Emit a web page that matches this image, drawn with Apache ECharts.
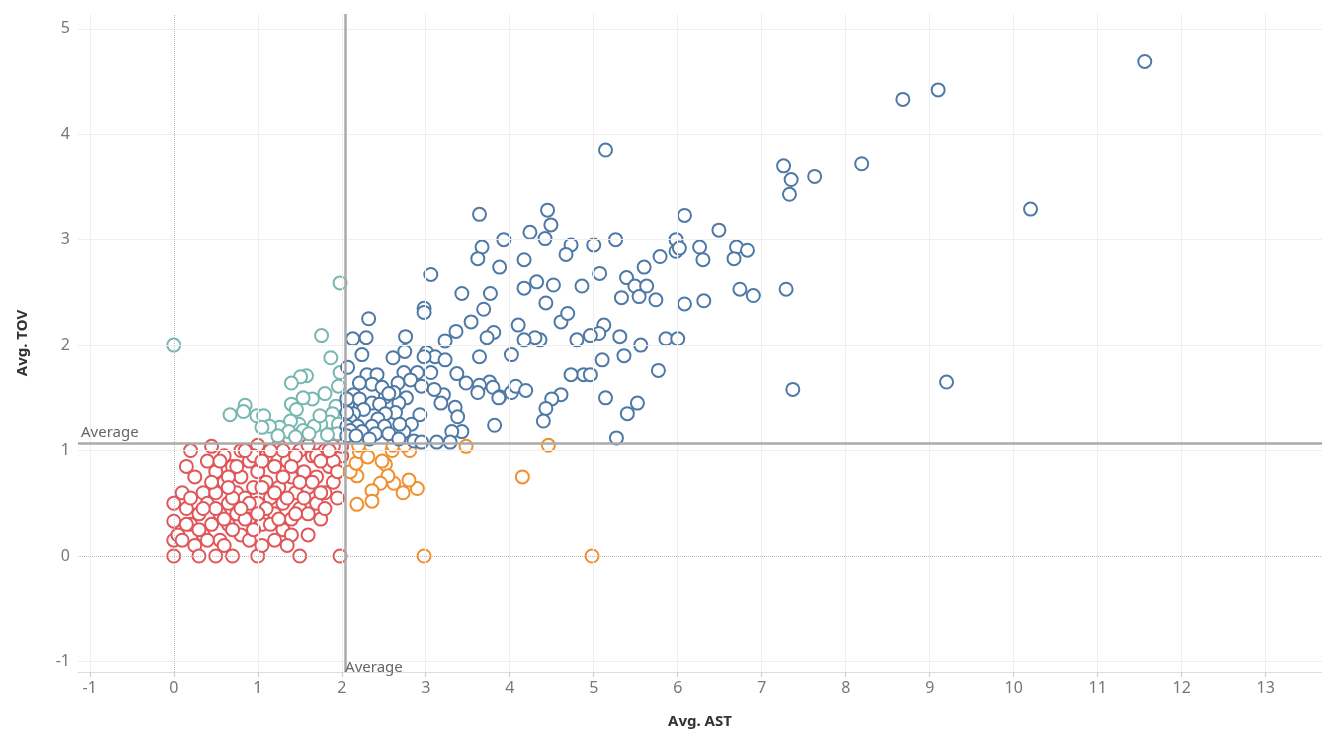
<!DOCTYPE html>
<html>
<head>
<meta charset="utf-8">
<script src="https://cdn.jsdelivr.net/npm/echarts@6/dist/echarts.min.js"></script>
<style>html,body{margin:0;padding:0;background:#fff}#chart{width:1322px;height:756px}</style>
</head>
<body>
<div id="chart"></div>
<script>
// averages
const avgAst = 2.04;
const avgTov = 1.07;

// high AST, high TOV
const bluePts = [
  [11.56,4.69],[9.1,4.42],[8.68,4.33],[8.19,3.72],[7.26,3.70],[7.35,3.57],[7.63,3.60],[7.33,3.43],
  [10.2,3.29],[5.14,3.85],[9.2,1.65],[7.37,1.58],[6.49,3.09],[6.08,3.23],[6.26,2.93],[5.98,3.0],
  [5.98,2.89],[6.02,2.92],[6.3,2.81],[6.7,2.93],[6.67,2.82],[6.83,2.9],[5.79,2.84],[5.6,2.74],
  [5.39,2.64],[5.49,2.56],[5.63,2.56],[6.74,2.53],[7.29,2.53],[6.9,2.47],[6.31,2.42],[6.08,2.39],
  [5.74,2.43],[5.54,2.46],[5.33,2.45],[5.26,3.0],[5.0,2.95],[5.07,2.68],[4.86,2.56],[4.73,2.95],
  [4.67,2.86],[4.45,3.28],[4.49,3.14],[4.42,3.01],[4.24,3.07],[3.93,3.0],[3.64,3.24],[3.67,2.93],
  [3.62,2.82],[3.88,2.74],[4.17,2.81],[4.17,2.54],[4.32,2.6],[4.52,2.57],[4.43,2.4],[4.61,2.22],
  [4.69,2.3],[5.12,2.19],[5.06,2.11],[4.96,2.09],[5.31,2.08],[5.56,2.0],[5.86,2.06],[6.0,2.06],
  [5.36,1.9],[5.1,1.86],[4.88,1.72],[4.96,1.72],[4.73,1.72],[5.77,1.76],[5.14,1.5],[5.52,1.45],
  [5.4,1.35],[5.27,1.12],[4.8,2.05],[4.61,1.53],[4.5,1.49],[4.43,1.4],[4.4,1.28],[4.02,1.55],
  [4.07,1.61],[4.19,1.57],[4.36,2.05],[4.3,2.07],[4.1,2.19],[4.17,2.05],[4.02,1.91],[3.81,2.12],
  [3.73,2.07],[3.64,1.89],[3.76,1.65],[3.64,1.62],[3.62,1.55],[3.8,1.6],[3.88,1.51],[3.87,1.5],
  [3.69,2.34],[3.77,2.49],[3.43,2.49],[3.54,2.22],[3.36,2.13],[3.23,2.04],[3.06,2.67],[2.98,2.35],
  [2.98,2.31],[3.01,1.93],[3.11,1.89],[3.23,1.86],[3.37,1.73],[3.48,1.64],[3.21,1.53],[3.18,1.45],
  [3.35,1.41],[3.38,1.32],[3.82,1.24],[3.43,1.18],[3.31,1.18],[3.29,1.08],[3.13,1.08],[2.98,1.89],
  [2.76,2.08],[2.75,1.94],[2.61,1.88],[2.74,1.74],[2.9,1.74],[2.67,1.64],[2.82,1.67],[3.06,1.74],
  [3.1,1.58],[2.95,1.61],[2.77,1.5],[2.68,1.45],[2.52,1.51],[2.64,1.36],[2.93,1.34],[2.83,1.25],
  [2.74,1.18],[2.86,1.09],[2.95,1.08],[2.32,2.25],[2.29,2.07],[2.13,2.06],[2.24,1.91],[2.07,1.79],
  [2.3,1.72],[2.42,1.72],[2.36,1.63],[2.21,1.64],[2.48,1.6],[2.62,1.55],[2.14,1.53],[2.07,1.44],
  [2.21,1.49],[2.36,1.45],[2.45,1.44],[2.52,1.35],[2.43,1.3],[2.26,1.39],[2.14,1.35],[2.1,1.29],
  [2.06,1.23],[2.19,1.23],[2.36,1.23],[2.51,1.23],[2.56,1.16],[2.4,1.16],[2.24,1.18],[2.1,1.19],
  [2.06,1.14],[2.17,1.14],[2.33,1.11],[2.68,1.11],[2.56,1.54],[2.69,1.25],[2.06,1.36],[2.06,1.49]
];

// low AST, high TOV
const tealPts = [
  [0,2.0],[1.98,2.59],[1.76,2.09],[1.87,1.88],[1.58,1.71],[1.51,1.70],[1.98,1.74],[1.4,1.64],
  [1.8,1.54],[1.65,1.49],[1.54,1.5],[1.96,1.61],[0.85,1.43],[0.83,1.37],[0.67,1.34],[0.99,1.33],
  [1.07,1.33],[1.4,1.44],[1.46,1.39],[1.93,1.42],[1.89,1.35],[1.86,1.27],[1.75,1.25],[1.67,1.23],
  [1.49,1.25],[1.39,1.28],[1.26,1.22],[1.14,1.23],[1.05,1.22],[1.54,1.19],[1.37,1.18],[1.96,1.25],
  [1.95,1.16],[1.83,1.15],[1.61,1.16],[1.45,1.13],[1.24,1.14],[1.74,1.33]
];

// high AST, low TOV
const orangePts = [
  [4.98,0],[2.98,0],[4.15,0.75],[4.46,1.05],[3.48,1.04],[2.9,0.64],[2.73,0.6],[2.8,0.72],
  [2.62,0.69],[2.52,0.87],[2.48,0.9],[2.55,0.76],[2.46,0.69],[2.36,0.62],[2.36,0.52],[2.18,0.49],
  [2.18,0.76],[2.1,0.8],[2.17,0.88],[2.21,0.99],[2.31,0.94],[2.6,1.0],[2.81,1.0],[2.2,1.05],
  [2.61,1.05],[2.75,1.05]
];

// low AST, low TOV
const redPts = [
  [0,0],[0,0.15],[0,0.33],[0,0.5],[0.05,0.2],[0.1,0.6],[0.15,0.85],[0.15,0.45],[0.2,1.0],[0.25,0.75],
  [0.2,0.3],[0.25,0.1],[0.3,0],[0.3,0.4],[0.35,0.6],[0.35,0.2],[0.4,0.9],[0.4,0.5],[0.45,0.3],[0.5,0],
  [0.45,1.04],[0.5,0.8],[0.5,0.6],[0.55,0.4],[0.55,0.15],[0.6,0.95],[0.6,0.7],[0.65,0.5],[0.65,0.3],[0.7,0],
  [0.7,0.85],[0.75,0.6],[0.75,0.4],[0.8,1.0],[0.8,0.75],[0.8,0.2],[0.85,0.55],[0.9,0.9],[0.9,0.35],[0.95,0.65],
  [1.0,0],[1.0,1.05],[1.0,0.8],[1.0,0.5],[1.05,0.3],[1.05,0.1],[1.1,0.7],[1.1,0.95],[1.15,0.55],[1.2,0.85],
  [1.2,0.4],[1.25,1.05],[1.25,0.65],[1.3,0.25],[1.3,0.5],[1.35,0.9],[1.4,0.75],[1.4,0.35],[1.45,0.6],[1.5,0],
  [1.5,1.0],[1.5,0.45],[1.55,0.8],[1.6,0.65],[1.6,0.2],[1.65,0.95],[1.7,0.5],[1.7,0.75],[1.75,0.35],[1.8,1.0],
  [1.8,0.6],[1.85,0.85],[1.9,0.7],[1.95,0.55],[1.98,0],[2.0,0.95],[2.0,1.04],[1.9,1.04],[0.3,0.25],[0.4,0.15],
  [0.6,0.1],[0.7,0.25],[0.9,0.5],[1.15,0.3],[1.3,0.75],[1.45,0.95],[1.6,1.05],[1.7,0.95],[1.75,0.9],[1.9,0.9],
  [0.95,0.95],[0.85,1.0],[0.55,0.9],[0.65,0.75],[1.2,0.6],[1.35,0.55],[1.05,0.65],[0.75,0.85],[1.5,0.7],[1.6,0.4],
  [1.4,0.2],[1.2,0.15],[0.9,0.15],[0.5,0.45],[0.2,0.55],[0.1,0.15],[0.15,0.3],[0.85,0.35],[1.1,0.45],[1.25,0.35],
  [1.55,0.55],[1.65,0.7],[1.85,1.0],[1.95,0.8],[0.7,0.55],[0.95,0.25],[1.0,0.4],[1.3,1.0],[1.4,0.85],[1.15,1.0],
  [0.65,0.65],[0.35,0.45],[0.45,0.7],[0.6,0.35],[0.8,0.45],[1.05,0.9],[1.45,0.4],[1.75,0.6],[1.8,0.45],[1.35,0.1]
];

const xTicks = [-1,0,1,2,3,4,5,6,7,8,9,10,11,12,13];
const yTicks = [-1,0,1,2,3,4,5];

const chart = echarts.init(document.getElementById('chart'));

function mk(data, color) {
  return {
    type: 'scatter', data: data, symbol: 'emptyCircle', symbolSize: 13,
    itemStyle: { color: color, borderColor: color, borderWidth: 2.5, opacity: 1 }
  };
}

const avgSeries = mk([], '#aaa');
avgSeries.markLine = {
  silent: true, symbol: 'none',
  lineStyle: { color: '#aaa', width: 2.5, type: 'solid' },
  data: [
    { xAxis: avgAst, label: { formatter: 'Average', position: 'start', distance: [-3, -12], align: 'left', color: '#666', fontSize: 15 } },
    { yAxis: avgTov, label: { formatter: 'Average', position: 'insideStartTop', distance: 3, color: '#666', fontSize: 15 } }
  ]
};

const zeroSeries = mk([], '#bbb');
zeroSeries.markLine = {
  silent: true, symbol: 'none', label: { show: false },
  lineStyle: { color: '#bbb', width: 1, type: 'dotted' },
  data: [{ xAxis: 0 }, { yAxis: 0 }]
};

chart.setOption({
  animation: false,
  textStyle: { fontFamily: 'Noto Sans' },
  grid: { left: 78, right: 0, top: 14, bottom: 84 },
  xAxis: {
    type: 'value', min: -1.14, max: 13.67,
    name: 'Avg. AST', nameLocation: 'middle', nameGap: 42,
    nameTextStyle: { color: '#333', fontSize: 15, fontWeight: 'bold' },
    axisLabel: { color: '#777', fontSize: 16, customValues: xTicks },
    axisTick: { show: true, lineStyle: { color: '#ccc' }, customValues: xTicks },
    axisLine: { show: true, onZero: false, lineStyle: { color: '#ddd' } },
    splitLine: { show: false }
  },
  yAxis: {
    type: 'value', min: -1.1, max: 5.14,
    name: 'Avg. TOV', nameLocation: 'middle', nameGap: 48,
    nameTextStyle: { color: '#333', fontSize: 15, fontWeight: 'bold' },
    axisLabel: { color: '#777', fontSize: 16, customValues: yTicks },
    axisTick: { show: false },
    axisLine: { show: false },
    splitLine: { show: false }
  },
  series: [
    Object.assign(mk([], '#eee'), {
      markLine: {
        silent: true, symbol: 'none', label: { show: false },
        lineStyle: { color: '#efefef', width: 1, type: 'solid' },
        data: xTicks.filter(v => v !== 0).map(v => ({ xAxis: v }))
          .concat(yTicks.filter(v => v !== 0).map(v => ({ yAxis: v })))
      }
    }),
    zeroSeries,
    avgSeries,
    mk(redPts, '#e15759'),
    mk(tealPts, '#76b7b2'),
    mk(orangePts, '#f28e2b'),
    mk(bluePts, '#4e79a7')
  ]
});
</script>
</body>
</html>
